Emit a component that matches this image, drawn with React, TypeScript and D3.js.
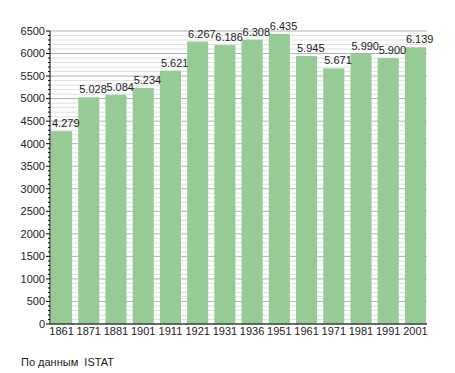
import React from "react";
import * as d3 from "d3";

const years = ["1861", "1871", "1881", "1901", "1911", "1921", "1931", "1936", "1951", "1961", "1971", "1981", "1991", "2001"];
const population = [4279, 5028, 5084, 5234, 5621, 6267, 6186, 6308, 6435, 5945, 5671, 5990, 5900, 6139];
const majorTicks = [0, 500, 1000, 1500, 2000, 2500, 3000, 3500, 4000, 4500, 5000, 5500, 6000, 6500];

const fmt = (v: number) => d3.format(",")(v).replace(",", ".");

const App = () => {
  const left = 50;
  const right = 427;
  const top = 31;
  const bottom = 324;

  const x = d3.scaleBand<string>().domain(years).range([51, 426]).paddingInner(0.225).paddingOuter(0);
  const y = d3.scaleLinear().domain([0, 6500]).range([bottom, top]);
  const minor = d3.range(0, 6501, 100).filter((v) => v % 500 !== 0);

  return (
    <svg width={455} height={373} style={{ position: "absolute", left: 0, top: 0 }} fontFamily="'Liberation Sans', Arial, sans-serif" fontSize={11}>
      <rect width={455} height={373} fill="#fff" />
      {/* grid */}
      {minor.map((v) => (
        <line key={"m" + v} x1={left} x2={right} y1={y(v)} y2={y(v)} stroke="#e0e0e0" strokeWidth={1} />
      ))}
      {majorTicks.map((v) => (
        <line key={"g" + v} x1={left} x2={right} y1={y(v)} y2={y(v)} stroke="#b0b0b0" strokeWidth={1} />
      ))}
      {/* bars */}
      {population.map((v, i) => (
        <rect key={years[i]} x={x(years[i])} y={y(v)} width={x.bandwidth()} height={bottom - y(v)} fill="#96cb96" />
      ))}
      {population.map((v, i) => (
        <text key={"l" + i} x={(x(years[i]) as number) + 1} y={y(v) - 4} fill="#222">
          {fmt(v)}
        </text>
      ))}
      {/* axes */}
      <line x1={left} x2={left} y1={top} y2={bottom} stroke="#000" />
      <line x1={left} x2={right} y1={bottom} y2={bottom} stroke="#000" />
      {minor.map((v) => (
        <line key={"mt" + v} x1={left - 2} x2={left} y1={y(v)} y2={y(v)} stroke="#000" />
      ))}
      {majorTicks.map((v) => (
        <g key={"t" + v}>
          <line x1={left - 4} x2={left} y1={y(v)} y2={y(v)} stroke="#000" />
          <text x={left - 5} y={y(v)} dy="0.35em" textAnchor="end" fill="#222">
            {v}
          </text>
        </g>
      ))}
      {years.map((yr) => (
        <text key={"x" + yr} x={(x(yr) as number) + x.bandwidth() / 2} y={335} textAnchor="middle" fill="#222">
          {yr}
        </text>
      ))}
      <text x={21} y={366} fill="#222">По данным&#160; ISTAT</text>
    </svg>
  );
};

export default App;
